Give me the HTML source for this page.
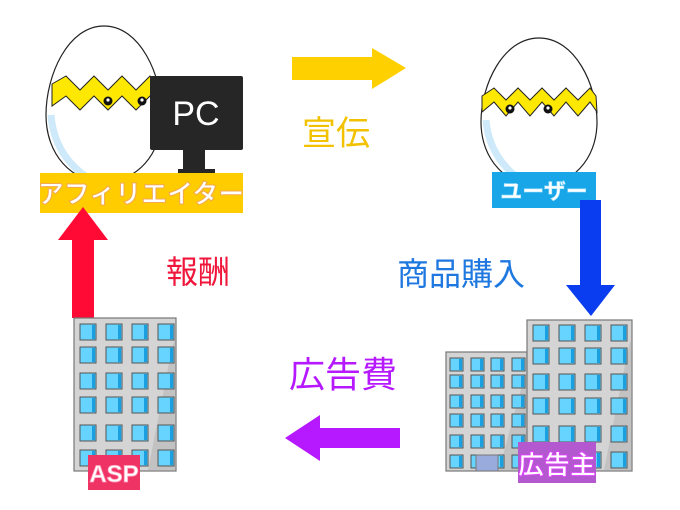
<!DOCTYPE html>
<html><head><meta charset="utf-8"><style>
body{margin:0;background:#fff;width:680px;height:510px;overflow:hidden}
svg{display:block}
.lbl{font-family:"Liberation Sans","Noto Sans CJK JP",sans-serif}
</style></head><body>
<svg id="s" width="680" height="510" viewBox="0 0 680 510" xmlns="http://www.w3.org/2000/svg">
<!-- left egg -->
<path d="M104 26 C140 26 162 75 162 115 C162 155 136 182 104 182 C72 182 46 155 46 115 C46 75 68 26 104 26Z" fill="#fff" stroke="#222" stroke-width="1.2"/>
<path d="M51 115 Q54 155 88 178" stroke="#cde9fa" stroke-width="7" fill="none"/>
<polygon points="52,84 66,76 80,90 94,76 108,90 122,76 136,90 150,76 158,84 160,106 150,96 136,110 122,96 108,110 94,96 80,110 66,96 52,106" fill="#ffe800" stroke="#222" stroke-width="1"/>
<circle cx="108" cy="101" r="4.5" fill="#111"/><circle cx="108" cy="100" r="1.6" fill="#fff"/>
<circle cx="142" cy="101" r="4.5" fill="#111"/><circle cx="142" cy="100" r="1.6" fill="#fff"/>
<!-- monitor -->
<rect x="150" y="76" width="93" height="74" rx="2" fill="#262626"/>
<rect x="183" y="150" width="22" height="20" fill="#262626"/>
<rect x="178" y="169" width="37" height="6" fill="#262626"/>
<text x="196" y="125" text-anchor="middle" class="lbl" font-size="34" fill="#fff">PC</text>
<rect x="40" y="173" width="203" height="40" fill="#ffcc00"/>
<text x="141" y="203" text-anchor="middle" class="lbl" font-size="26" font-weight="bold" fill="#fff" stroke="#f2a950" stroke-width="1">アフィリエイター</text>
<!-- right egg -->
<path d="M539 38 C575 38 597 85 597 122 C597 160 571 186 539 186 C507 186 481 160 481 122 C481 85 503 38 539 38Z" fill="#fff" stroke="#222" stroke-width="1.2"/>
<path d="M486 120 Q489 158 523 182" stroke="#cde9fa" stroke-width="7" fill="none"/>
<polygon points="482,96 494,88 506,100 518,88 530,100 542,88 554,100 566,88 578,100 590,88 596,96 597,112 590,102 578,116 566,102 554,116 542,102 530,116 518,102 506,116 494,102 482,112" fill="#ffe800" stroke="#222" stroke-width="1"/>
<circle cx="510" cy="109" r="4.5" fill="#111"/><circle cx="510" cy="108" r="1.6" fill="#fff"/>
<circle cx="548" cy="109" r="4.5" fill="#111"/><circle cx="548" cy="108" r="1.6" fill="#fff"/>
<rect x="492" y="172" width="104" height="36" fill="#19a6e8"/>
<text x="544" y="199" text-anchor="middle" class="lbl" font-size="22" font-weight="bold" fill="#fff" stroke="#9fe0ff" stroke-width="0.6">ユーザー</text>
<!-- arrows -->
<polygon points="292,57 372,57 372,48 406,68 372,89 372,80 292,80" fill="#ffd000"/>
<polygon points="580,200 601,200 601,285 615,285 591,316 566,285 580,285" fill="#0a3cf0"/>
<polygon points="72,318 94,318 94,240 108,240 83,207 58,240 72,240" fill="#ff0a35"/>
<polygon points="400,428 320,428 320,415 285,438 320,461 320,448 400,448" fill="#b618ff"/>
<text x="336" y="145" text-anchor="middle" class="lbl" font-size="34" fill="#f2c200">宣伝</text>
<text x="461" y="285" text-anchor="middle" class="lbl" font-size="32" fill="#1e78e0">商品購入</text>
<text x="198" y="283" text-anchor="middle" class="lbl" font-size="32" fill="#f0153a">報酬</text>
<text x="343" y="387" text-anchor="middle" class="lbl" font-size="36" fill="#b618ff">広告費</text>
<g id="b"></g>
<rect x="518" y="442" width="78" height="41" fill="#b458d0"/>
<text x="557" y="474" text-anchor="middle" class="lbl" font-size="26" font-weight="bold" fill="#fff" stroke="#e040ff" stroke-width="0.8">広告主</text>
<rect x="88" y="455" width="52" height="35" fill="#f03365"/>
<text x="114" y="482" text-anchor="middle" class="lbl" font-size="24" font-weight="bold" fill="#fff" stroke="#ff9ab8" stroke-width="0.8">ASP</text>
</svg>
<script>
var g=document.getElementById('b'),h='';
function bld(x,y,w,hh,cols,rows,ws){
h+='<rect x="'+x+'" y="'+y+'" width="'+w+'" height="'+hh+'" fill="#d4d4d4" stroke="#777" stroke-width="1.2"/>';
h+='<polygon points="'+(x+w-4)+','+(y+30)+' '+(x+w-1)+','+(y+20)+' '+(x+w-1)+','+(y+hh-1)+' '+(x+w-28)+','+(y+hh-1)+'" fill="#c2c2c2"/>';
cols.forEach(function(cx){rows.forEach(function(ry){
h+='<rect x="'+cx+'" y="'+ry+'" width="'+ws+'" height="'+ws+'" fill="#66d4ff" stroke="#555" stroke-width="1"/>';
h+='<rect x="'+(cx+ws-4)+'" y="'+(ry+1)+'" width="3" height="'+(ws-2)+'" fill="#1aa0e0"/>';});});}
bld(74,318,102,153,[80,106,132,158],[324,347,373,397,425,450],16);
bld(446,352,81,119,[450,471,491,512],[358,375,395,414,435,455],13);
bld(527,320,105,151,[533,559,585,611],[325,348,374,398,426,452],16);
h+='<rect x="476" y="455" width="22" height="16" fill="#9ad" stroke="#777"/>';
g.innerHTML=h;
</script>
</body></html>
